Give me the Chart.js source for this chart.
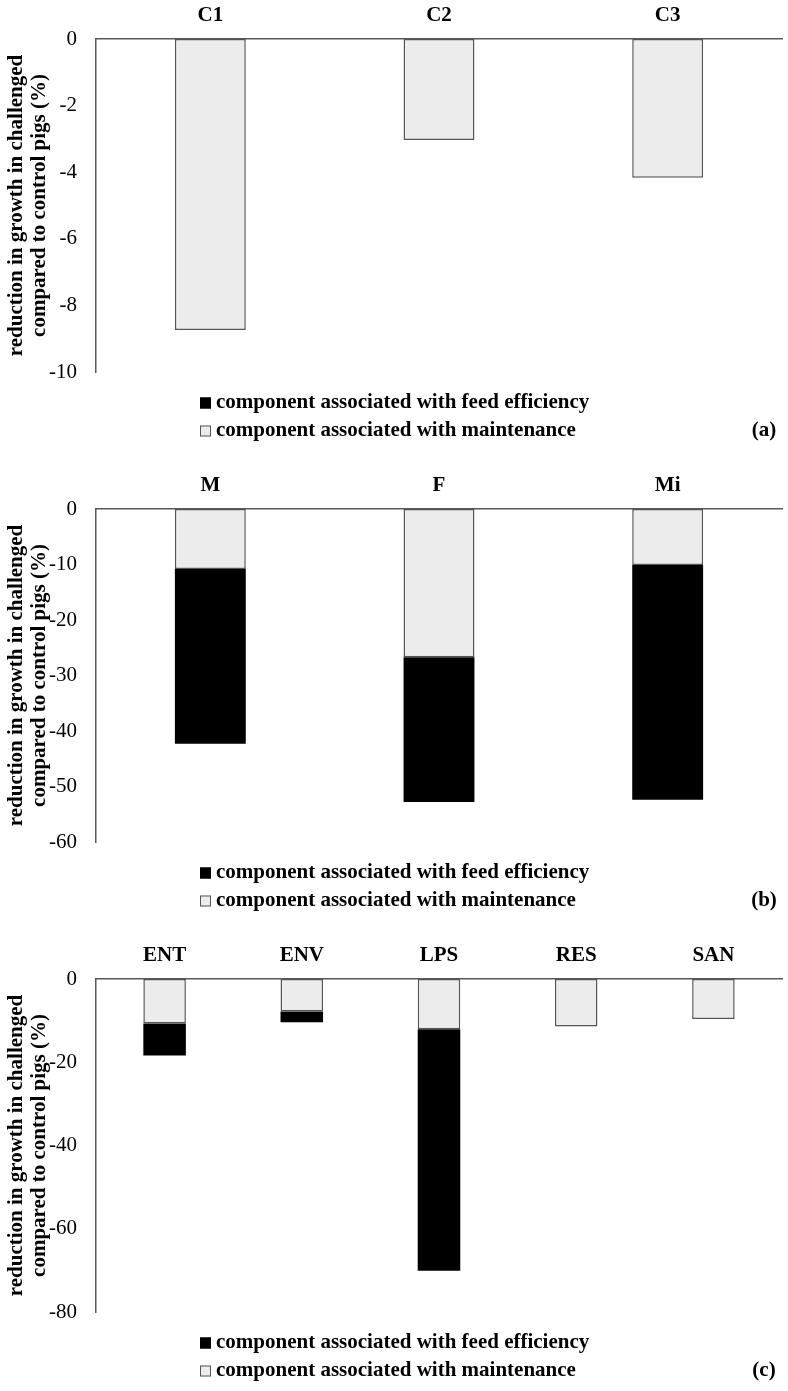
<!DOCTYPE html>
<html>
<head>
<meta charset="utf-8">
<script src="https://cdn.jsdelivr.net/npm/chart.js@4.4.1/dist/chart.umd.min.js"></script>
<style>
  body { margin: 0; background: #fff; }
  #wrap { position: relative; width: 788px; height: 1391px; }
  canvas { position: absolute; left: 0; }
</style>
</head>
<body>
<div id="wrap">
  <canvas id="panelA" width="788" height="460" style="top:0px"></canvas>
  <canvas id="panelB" width="788" height="460" style="top:470px"></canvas>
  <canvas id="panelC" width="788" height="451" style="top:940px"></canvas>
</div>
<script>
const seriesLabels = ['component associated with maintenance', 'component associated with feed efficiency'];
const yTitle = ['reduction in growth in challenged', 'compared to control pigs (%)'];

// (a)
const categoriesA = ['C1', 'C2', 'C3'];
const maintenanceA = [-8.74, -3.03, -4.17];
const efficiencyA = [0, 0, 0];
const ticksA = [-10, 0, 2]; // min, max, step

// (b)
const categoriesB = ['M', 'F', 'Mi'];
const maintenanceB = [-10.8, -26.7, -10.1];
const efficiencyB = [-31.5, -26.1, -42.3];
const ticksB = [-60, 0, 10];

// (c)
const categoriesC = ['ENT', 'ENV', 'LPS', 'RES', 'SAN'];
const maintenanceC = [-10.7, -7.8, -12.1, -11.4, -9.6];
const efficiencyC = [-7.7, -2.6, -58.0, 0, 0];
const ticksC = [-80, 0, 20];

const serif = '"Liberation Serif", "Times New Roman", serif';
const axisGrey = '#595959';

// legend (feed efficiency first) + panel letter, drawn under the plot
const panelExtras = {
  id: 'panelExtras',
  afterDraw(chart, args, opts) {
    const { ctx, chartArea } = chart;
    ctx.save();
    ctx.font = 'bold 21px ' + serif;
    ctx.textBaseline = 'middle';
    [1, 0].forEach((idx, row) => {
      const ds = chart.data.datasets[idx];
      const y = chartArea.top + 364 + row * 28;
      ctx.fillStyle = ds.backgroundColor;
      ctx.fillRect(200, y - 5.5, 11, 11);
      ctx.strokeStyle = ds.borderColor;
      ctx.lineWidth = 1;
      ctx.strokeRect(200.5, y - 5, 10, 10);
      ctx.fillStyle = '#000';
      ctx.textAlign = 'left';
      ctx.fillText(ds.label, 216, y);
    });
    ctx.textAlign = 'center';
    ctx.fillText(opts.letter, 764, chartArea.top + 392);
    ctx.restore();
  }
};

function makePanel(id, categories, maintenance, efficiency, ticks, letter) {
  const canvas = document.getElementById(id);
  const ctx = canvas.getContext('2d');

  const datasets = [
    {
      label: seriesLabels[0],
      data: maintenance,
      backgroundColor: '#ececec',
      borderColor: '#555',
      borderWidth: 1.5,
      borderSkipped: false
    },
    {
      label: seriesLabels[1],
      data: efficiency,
      backgroundColor: '#000',
      borderColor: '#000',
      borderWidth: 0
    }
  ];

  const config = {
    type: 'bar',
    data: { labels: categories, datasets: datasets },
    options: {
      responsive: false,
      animation: false,
      categoryPercentage: 1,
      barPercentage: 0.31,
      layout: { padding: { top: 0, left: 0, right: 6, bottom: canvas.height - 372 } },
      plugins: {
        legend: { display: false },
        tooltip: { enabled: false },
        panelExtras: { letter: letter }
      },
      scales: {
        x: {
          position: 'top',
          stacked: true,
          grid: { display: false, drawTicks: false },
          border: { display: true, color: axisGrey, width: 1.5 },
          ticks: { color: '#000', padding: 11, font: { family: serif, size: 21, weight: 'bold' } },
          afterFit(scale) { scale.height = 39; }
        },
        y: {
          stacked: true,
          min: ticks[0],
          max: ticks[1],
          grid: { display: false, drawTicks: false },
          border: { display: true, color: axisGrey, width: 1.5 },
          ticks: { stepSize: ticks[2], color: '#000', padding: 19, font: { family: serif, size: 21 } },
          title: {
            display: true,
            text: yTitle,
            color: '#000',
            padding: { top: 5, bottom: 0 },
            font: { family: serif, size: 21, weight: 'bold', lineHeight: 1.1 }
          },
          afterFit(scale) { scale.width = 96; }
        }
      }
    },
    plugins: [panelExtras]
  };

  return new Chart(ctx, config);
}

makePanel('panelA', categoriesA, maintenanceA, efficiencyA, ticksA, '(a)');
makePanel('panelB', categoriesB, maintenanceB, efficiencyB, ticksB, '(b)');
makePanel('panelC', categoriesC, maintenanceC, efficiencyC, ticksC, '(c)');
</script>
</body>
</html>
